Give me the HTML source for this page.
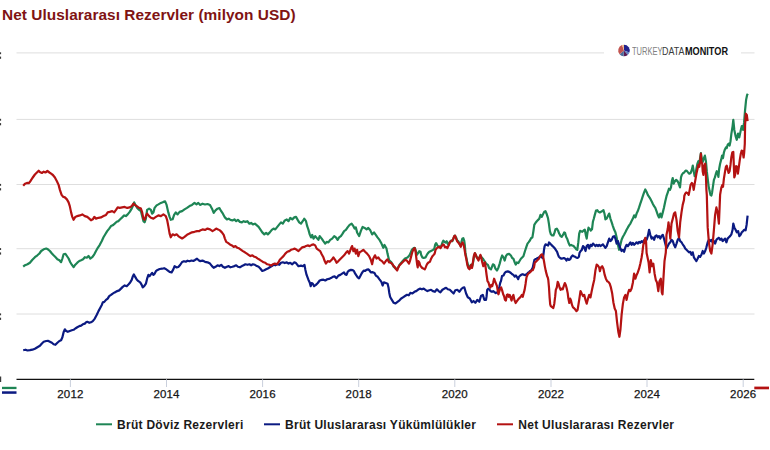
<!DOCTYPE html>
<html><head><meta charset="utf-8"><title>Net Uluslararası Rezervler</title>
<style>
html,body{margin:0;padding:0;background:#fff;}
body{width:770px;height:450px;overflow:hidden;position:relative;font-family:"Liberation Sans",sans-serif;}
#title{position:absolute;left:2px;top:5.5px;letter-spacing:0.05px;font-size:15.4px;font-weight:bold;color:#801313;white-space:nowrap;line-height:18px;}
svg{position:absolute;left:0;top:0;}
.yl{position:absolute;top:386.5px;font-size:11.5px;color:#151515;width:40px;text-align:center;line-height:14px;letter-spacing:0.15px;-webkit-text-stroke:0.25px #151515;}
.lg{position:absolute;top:416.5px;font-size:12px;font-weight:bold;color:#1a1a1a;white-space:nowrap;line-height:16px;letter-spacing:0.28px;}
.lgo{position:absolute;top:43.6px;height:14px;line-height:14px;font-size:11px;white-space:nowrap;transform-origin:0 50%;}
#lt{left:631.8px;color:#808080;transform:scaleX(0.686);}
#ld{left:662.4px;color:#3a3a3a;transform:scaleX(0.808);}
#lm{left:684.8px;color:#111;font-weight:bold;transform:scaleX(0.831);}
</style></head><body>
<svg width="770" height="450" viewBox="0 0 770 450">
<g stroke="#dedede" stroke-width="1" fill="none">
<path d="M16.5 52.9 H754.5"/><path d="M16.5 119.4 H754.5"/><path d="M16.5 184.5 H754.5"/><path d="M16.5 248.7 H754.5"/><path d="M16.5 314.0 H754.5"/>
</g>
<rect x="604" y="44" width="137" height="16" fill="#fff"/>
<path d="M16.5 379.3 H754.3" stroke="#111" stroke-width="1.2" fill="none"/>
<g stroke="#c9cfdc" stroke-width="1">
<path d="M70.4 379.3 V387"/><path d="M166.5 379.3 V387"/><path d="M262.6 379.3 V387"/><path d="M358.7 379.3 V387"/><path d="M454.8 379.3 V387"/><path d="M551 379.3 V387"/><path d="M647 379.3 V387"/><path d="M743.2 379.3 V387"/>
</g>
<g fill="none" stroke-width="2.2" stroke-linejoin="round" stroke-linecap="butt">
<path stroke="#1e8555" d="M23.2 266.7 L25.0 265.2 L27.5 264.2 L29.9 262.7 L32.4 259.7 L34.9 257.2 L37.4 255.3 L39.4 253.5 L41.2 251.0 L43.7 249.3 L46.2 248.5 L47.9 249.3 L49.9 251.0 L51.9 253.5 L53.6 255.3 L55.6 257.2 L57.4 259.2 L59.4 260.2 L61.1 262.2 L62.4 258.5 L63.6 254.3 L65.4 253.8 L66.9 256.0 L68.6 258.5 L70.3 262.2 L71.8 264.7 L73.6 267.2 L75.3 264.7 L77.3 262.7 L79.3 261.0 L81.1 260.2 L83.1 259.2 L84.8 257.2 L86.8 257.7 L88.5 256.0 L90.3 258.5 L92.3 257.2 L94.3 254.3 L96.0 251.0 L97.8 247.8 L99.8 244.8 L101.8 241.0 L103.5 237.3 L105.3 234.3 L107.2 231.1 L109.2 228.6 L111.0 226.1 L112.7 225.3 L114.7 223.6 L116.7 221.8 L118.5 221.1 L120.2 219.3 L122.2 217.4 L124.2 215.4 L125.9 216.1 L127.7 214.4 L129.7 211.9 L131.7 208.6 L133.4 204.9 L134.2 202.4 L135.4 204.9 L137.2 207.9 L139.2 209.9 L140.9 211.1 L142.2 216.1 L143.4 221.1 L144.6 222.3 L145.9 218.6 L147.1 209.9 L149.1 208.6 L150.9 209.9 L152.1 213.6 L153.4 212.4 L154.6 207.9 L156.6 205.4 L158.4 204.4 L160.9 202.9 L163.4 201.9 L165.1 201.4 L166.6 204.9 L168.3 212.4 L169.6 216.9 L170.8 219.8 L172.6 219.3 L174.1 214.9 L175.8 212.4 L177.6 214.4 L179.6 211.9 L182.1 211.1 L184.5 209.4 L187.0 207.9 L189.5 206.1 L192.0 204.9 L194.5 202.9 L196.5 204.4 L198.3 202.9 L200.0 204.9 L202.5 203.7 L205.0 204.5 L207.5 204.0 L210.0 205.0 L212.0 208.7 L213.7 212.9 L215.5 210.4 L217.5 208.7 L219.4 208.0 L221.2 211.2 L222.9 213.7 L224.9 217.4 L226.9 219.4 L228.7 218.7 L230.4 219.9 L232.4 220.4 L234.4 219.4 L236.2 221.2 L237.9 219.9 L239.9 221.9 L241.9 222.4 L243.6 221.2 L245.4 221.9 L247.4 221.2 L249.4 223.7 L251.1 222.9 L252.9 224.4 L254.9 223.7 L256.9 225.4 L258.6 226.9 L260.3 229.4 L262.3 232.4 L264.3 234.4 L266.1 232.9 L267.8 234.4 L269.8 232.4 L271.8 229.9 L273.6 228.6 L275.3 229.4 L277.3 226.9 L279.3 224.4 L281.0 222.4 L282.8 223.7 L284.8 220.4 L286.8 219.4 L288.5 221.2 L290.3 217.9 L292.3 219.4 L294.3 217.4 L296.0 216.9 L297.7 219.9 L299.2 222.4 L301.0 223.7 L302.7 221.2 L304.2 218.7 L306.0 221.2 L307.2 226.2 L308.5 229.9 L309.7 234.4 L311.0 237.4 L312.2 234.9 L313.5 238.6 L315.2 236.1 L316.7 237.9 L318.4 239.9 L319.7 236.1 L321.7 238.6 L323.4 241.1 L325.2 243.6 L326.7 241.9 L328.4 242.4 L330.2 239.9 L332.2 238.6 L334.2 236.1 L335.9 237.4 L337.6 239.9 L339.1 237.4 L340.9 236.1 L342.6 233.6 L344.1 231.1 L345.9 229.9 L347.6 227.4 L349.6 224.9 L351.6 223.7 L353.4 226.2 L354.6 228.6 L355.8 227.4 L357.1 232.4 L359.1 236.1 L360.8 231.1 L362.6 226.9 L364.6 227.9 L366.6 229.4 L368.3 227.9 L370.1 229.9 L372.1 234.4 L374.0 232.4 L375.8 234.9 L377.5 237.4 L379.5 239.9 L381.5 243.6 L383.3 247.8 L384.5 244.9 L386.5 248.6 L387.5 253.6 L389.0 259.8 L390.0 261.2 L391.2 262.2 L392.5 264.3 L393.7 266.8 L395.0 268.0 L396.2 268.9 L397.2 269.3 L398.1 267.4 L399.4 264.9 L400.6 263.4 L402.5 261.2 L405.0 258.4 L407.5 257.4 L409.3 255.5 L410.6 253.1 L411.8 249.9 L413.7 248.1 L414.7 247.8 L415.6 249.9 L416.8 254.9 L418.1 253.1 L419.3 251.2 L420.5 251.8 L421.2 254.9 L422.4 257.4 L423.7 258.0 L425.5 257.4 L426.8 254.9 L428.0 253.1 L429.3 251.8 L430.5 251.2 L431.8 250.6 L433.0 249.9 L434.3 248.7 L435.1 244.9 L436.1 243.1 L437.1 244.9 L438.0 246.8 L439.2 246.4 L440.5 247.4 L441.4 245.6 L442.4 242.5 L443.4 240.6 L444.4 241.8 L445.5 242.5 L446.7 241.2 L447.6 243.7 L448.6 244.9 L449.8 241.8 L451.1 240.6 L452.3 241.2 L453.6 238.1 L454.8 235.6 L456.1 237.5 L457.3 240.6 L458.3 241.2 L459.6 243.7 L460.4 245.6 L461.3 242.5 L462.3 238.7 L463.3 238.1 L464.2 240.6 L464.8 244.9 L465.4 252.4 L466.3 257.4 L467.3 262.4 L468.3 266.1 L469.5 267.4 L470.8 264.9 L471.7 264.3 L472.3 266.1 L473.3 261.2 L474.2 255.5 L475.0 253.4 L476.0 255.5 L477.3 257.7 L478.5 259.3 L479.8 256.8 L480.8 255.9 L481.6 257.4 L482.9 258.7 L484.1 260.5 L485.4 262.4 L486.0 263.6 L487.9 264.9 L489.1 268.0 L491.0 269.3 L492.9 264.3 L494.1 264.9 L495.4 268.6 L497.0 270.5 L498.5 267.4 L499.7 263.6 L501.0 258.7 L502.2 255.5 L503.5 257.4 L504.7 260.5 L505.9 256.2 L507.2 254.3 L509.1 253.9 L510.9 255.5 L512.2 258.0 L513.4 258.7 L514.7 262.4 L515.7 264.6 L516.9 262.4 L518.4 263.0 L519.4 261.2 L520.9 258.7 L523.4 256.2 L525.0 251.0 L526.2 247.4 L527.5 243.6 L528.7 242.1 L529.9 240.5 L531.2 238.0 L532.4 237.4 L533.4 231.2 L534.3 224.9 L535.6 222.7 L536.8 221.2 L538.1 219.9 L539.3 218.7 L540.5 214.9 L541.8 216.8 L543.0 214.3 L544.3 211.8 L545.5 211.2 L546.8 214.3 L548.0 218.1 L548.9 223.7 L549.9 231.2 L550.9 234.3 L552.1 235.5 L553.4 235.5 L554.6 232.4 L555.5 229.3 L556.8 228.7 L558.0 230.5 L559.2 233.6 L560.5 236.1 L561.7 236.8 L563.0 234.9 L564.2 232.4 L565.1 233.0 L566.1 236.8 L567.4 239.3 L568.6 243.0 L569.8 245.5 L571.1 244.9 L572.3 245.5 L573.6 246.1 L574.8 247.4 L576.1 249.2 L577.3 249.9 L578.3 242.4 L579.2 233.6 L580.1 230.9 L581.1 231.2 L582.3 231.8 L583.6 230.5 L584.8 229.7 L585.8 234.9 L586.7 238.6 L587.5 232.4 L588.5 227.7 L589.5 228.7 L590.8 230.5 L592.0 229.3 L592.9 221.8 L593.8 218.7 L594.8 214.9 L596.0 210.6 L597.3 210.2 L598.5 211.8 L599.8 212.5 L601.0 211.8 L602.3 211.0 L603.5 210.2 L604.5 213.7 L605.4 219.3 L606.7 218.6 L607.9 216.1 L609.2 213.6 L610.4 218.6 L611.7 222.4 L612.9 226.1 L614.2 229.8 L615.4 232.3 L616.6 237.3 L617.9 244.8 L619.1 249.8 L620.4 244.8 L621.6 239.8 L622.9 236.8 L624.1 234.8 L625.4 232.3 L626.6 229.8 L627.9 227.4 L629.1 225.4 L630.4 223.6 L631.6 221.1 L632.9 218.6 L634.1 215.4 L635.4 217.4 L636.6 213.6 L637.8 211.1 L639.1 207.4 L640.3 203.7 L641.6 199.9 L642.8 196.2 L644.1 192.4 L645.3 189.4 L646.6 191.9 L647.8 194.9 L649.1 196.9 L650.3 198.7 L651.6 201.2 L652.8 203.7 L654.1 206.2 L655.3 207.9 L656.5 211.1 L657.8 214.9 L659.0 217.4 L660.3 213.6 L661.5 217.4 L662.8 212.4 L664.0 207.4 L665.3 201.2 L666.5 196.2 L667.8 192.4 L669.0 188.7 L670.0 189.9 L671.0 187.4 L671.9 181.1 L672.7 178.0 L673.7 183.6 L675.0 181.1 L676.2 179.9 L677.5 181.1 L678.7 183.6 L680.0 187.4 L681.0 177.4 L681.8 174.9 L683.1 173.0 L684.3 172.4 L685.6 170.5 L686.8 170.9 L688.1 172.4 L689.3 173.7 L690.6 173.0 L691.8 169.9 L692.8 165.6 L693.7 171.2 L694.7 176.2 L695.6 173.7 L696.4 168.7 L697.4 163.7 L698.4 161.2 L699.3 163.1 L700.2 157.5 L700.9 153.1 L701.8 158.7 L702.7 161.8 L703.7 158.7 L704.9 155.6 L705.9 161.2 L706.8 171.2 L707.7 178.6 L708.6 186.1 L709.6 191.1 L710.5 194.9 L711.4 195.5 L712.1 192.4 L713.0 186.1 L713.9 179.9 L714.9 177.4 L715.9 173.7 L716.8 171.2 L717.6 173.0 L718.4 176.8 L719.2 168.7 L720.1 163.7 L721.1 159.9 L722.1 155.6 L723.0 158.1 L723.9 152.5 L724.9 149.4 L725.9 147.5 L726.7 148.1 L727.6 145.0 L728.6 143.7 L729.6 145.6 L730.5 141.2 L731.4 133.6 L732.6 126.1 L733.3 119.9 L734.3 129.9 L735.6 136.1 L736.8 139.8 L738.1 133.6 L739.3 137.4 L740.6 131.1 L741.8 126.1 L743.1 129.9 L744.1 122.4 L745.1 109.9 L746.1 99.9 L747.1 95.0 L747.8 93.7"/>
<path stroke="#0b1a82" d="M23.2 350.2 L25.5 349.7 L27.5 350.5 L29.9 350.2 L32.4 349.7 L34.9 348.7 L37.4 347.2 L39.9 345.8 L41.9 343.5 L43.7 341.8 L46.2 341.0 L47.9 340.8 L49.9 341.8 L51.9 342.8 L53.6 344.3 L55.4 344.8 L57.4 342.8 L59.4 341.0 L61.1 340.3 L62.4 337.3 L63.6 332.3 L64.9 329.3 L66.1 331.0 L67.8 331.8 L69.8 331.0 L71.8 330.3 L73.6 329.8 L75.3 328.5 L77.3 327.3 L79.3 326.1 L81.1 325.6 L82.8 324.3 L84.8 323.6 L86.1 322.3 L87.3 321.8 L89.3 322.8 L91.0 322.3 L92.8 321.1 L94.8 318.6 L96.8 314.8 L98.5 311.1 L100.3 307.8 L101.8 304.9 L102.8 302.4 L104.3 301.9 L106.0 299.9 L107.7 298.6 L109.2 296.1 L111.0 294.9 L112.7 293.6 L114.7 292.4 L117.2 291.1 L119.2 290.4 L121.0 288.6 L122.7 286.9 L124.7 285.4 L126.7 286.2 L128.4 284.4 L130.2 282.4 L131.7 279.9 L132.9 276.2 L133.9 274.4 L135.2 276.9 L136.7 279.4 L138.4 281.2 L140.2 282.4 L141.7 284.9 L142.7 287.4 L144.2 286.2 L145.9 283.7 L147.1 278.7 L148.4 274.9 L149.6 276.2 L150.9 274.4 L152.1 272.9 L153.4 274.9 L154.6 273.7 L155.9 271.2 L157.6 269.9 L159.6 269.0 L162.1 268.7 L164.1 268.2 L165.8 269.0 L167.6 270.4 L169.6 271.9 L171.6 272.4 L173.3 269.4 L174.6 266.2 L176.6 267.5 L178.3 267.0 L180.1 265.0 L182.1 262.0 L184.0 261.2 L185.8 261.7 L187.5 260.7 L189.5 261.2 L191.5 260.5 L193.3 261.0 L195.0 260.0 L197.0 258.7 L199.0 260.5 L200.0 261.1 L202.5 260.6 L205.0 261.8 L207.5 262.3 L210.0 263.6 L212.0 266.1 L213.7 267.8 L215.5 266.8 L217.5 265.3 L219.4 266.1 L221.2 264.8 L222.9 266.8 L224.9 267.8 L226.9 266.8 L228.7 266.1 L230.4 267.3 L232.4 266.8 L234.4 266.1 L236.2 265.3 L237.9 266.8 L239.9 267.3 L241.9 266.1 L243.6 265.3 L245.4 264.3 L247.4 264.8 L249.4 264.3 L251.1 265.3 L252.9 264.3 L254.9 264.8 L256.9 266.1 L258.6 266.8 L260.3 268.5 L262.3 271.0 L264.3 270.3 L266.1 269.3 L267.8 268.5 L269.8 267.3 L271.8 266.1 L273.6 264.8 L275.3 265.3 L277.3 264.3 L279.3 264.8 L281.0 262.8 L282.8 262.3 L284.8 263.1 L286.8 262.3 L288.5 263.6 L290.3 262.8 L292.3 264.3 L294.3 262.3 L296.0 263.1 L298.5 266.2 L301.0 265.6 L302.9 266.2 L304.5 265.0 L305.4 269.9 L306.6 274.9 L308.5 279.9 L309.7 282.4 L310.7 286.2 L311.6 283.0 L312.8 283.7 L314.1 286.2 L315.9 284.9 L317.8 283.0 L319.7 280.5 L321.6 279.9 L323.4 279.7 L325.3 280.5 L327.2 279.3 L329.0 278.9 L330.9 278.1 L332.8 276.8 L334.6 276.4 L336.5 278.1 L338.4 275.6 L340.3 274.9 L342.1 273.7 L344.0 272.4 L345.2 274.3 L346.5 274.9 L347.7 271.8 L349.0 270.6 L350.9 269.9 L352.7 270.2 L354.0 271.2 L355.2 273.7 L356.5 275.6 L357.7 277.4 L359.0 278.4 L360.2 276.2 L361.5 273.7 L362.7 271.8 L363.9 270.6 L365.2 270.9 L366.4 269.9 L368.3 269.3 L369.6 270.6 L370.8 272.4 L372.7 272.2 L374.5 273.1 L375.8 275.6 L377.7 276.8 L379.5 279.3 L381.4 281.8 L382.6 285.5 L383.9 282.4 L385.8 283.0 L387.6 283.7 L388.5 287.4 L389.3 293.0 L390.1 296.8 L391.4 299.2 L393.7 302.8 L395.5 303.5 L397.5 301.8 L399.5 300.3 L401.2 298.5 L403.0 297.3 L405.0 296.0 L407.0 294.8 L408.7 295.3 L410.4 292.8 L412.4 293.5 L414.4 291.8 L416.2 291.1 L417.9 289.8 L419.9 288.6 L421.9 289.3 L423.7 288.6 L425.4 289.8 L427.4 291.1 L429.4 290.3 L431.1 289.8 L432.9 291.1 L434.9 291.8 L436.9 289.3 L438.6 291.1 L440.4 292.3 L442.4 289.8 L444.4 288.6 L446.1 287.8 L447.8 289.3 L449.8 289.8 L451.8 291.8 L453.6 293.5 L455.3 290.3 L457.3 289.8 L459.3 291.8 L461.1 289.3 L462.8 287.8 L464.3 287.3 L466.1 293.5 L467.8 297.3 L469.8 298.5 L471.8 302.3 L473.5 301.0 L475.3 302.8 L477.3 299.8 L479.3 301.8 L481.0 296.0 L482.8 294.8 L484.3 299.8 L486.0 299.9 L486.6 296.2 L487.2 289.9 L488.2 288.7 L489.5 289.7 L490.7 291.2 L492.0 291.8 L493.2 291.2 L494.5 292.2 L495.7 293.1 L497.0 292.4 L497.8 293.1 L498.5 289.9 L499.5 286.2 L500.3 282.5 L501.0 281.0 L502.0 276.1 L503.5 275.5 L504.7 273.0 L505.9 271.8 L507.8 271.4 L509.7 272.1 L510.9 273.0 L512.2 274.2 L513.4 274.9 L514.7 276.7 L515.9 275.5 L517.2 277.4 L518.2 279.2 L519.0 276.7 L520.3 275.5 L521.5 274.6 L522.8 274.2 L524.0 274.9 L525.3 275.1 L526.5 274.2 L527.8 273.0 L529.0 272.1 L530.3 270.9 L531.5 270.1 L532.8 267.4 L533.6 263.6 L534.4 259.9 L535.2 259.3 L536.5 258.7 L537.7 258.0 L539.0 257.4 L540.2 256.2 L541.5 257.2 L542.7 258.0 L543.4 254.9 L544.0 249.9 L544.6 246.2 L545.6 244.3 L546.8 244.9 L548.1 245.6 L549.0 242.5 L549.8 243.1 L550.8 244.3 L552.1 245.6 L553.3 246.8 L554.6 248.1 L555.8 249.9 L557.1 251.8 L558.1 254.9 L558.9 256.8 L560.2 258.0 L561.4 258.7 L562.7 258.4 L563.9 258.0 L565.2 258.7 L566.4 260.5 L567.7 258.7 L568.9 259.9 L570.2 259.3 L571.4 256.8 L572.6 255.5 L573.9 256.2 L575.1 256.8 L576.4 257.7 L577.6 258.0 L578.9 256.8 L579.5 253.1 L580.5 251.2 L581.8 249.9 L583.0 246.1 L584.2 247.3 L585.5 251.0 L586.7 246.1 L588.0 244.8 L589.2 248.5 L590.5 244.8 L591.7 246.1 L593.0 243.6 L594.2 244.8 L595.5 246.1 L596.7 244.8 L597.9 246.1 L599.2 244.8 L600.4 246.1 L601.7 245.3 L602.9 244.3 L604.2 246.1 L605.4 247.8 L606.7 246.1 L607.9 242.3 L609.2 238.6 L610.4 241.1 L611.7 239.8 L612.9 236.8 L614.2 236.1 L615.4 238.6 L616.6 243.6 L617.9 241.1 L619.1 244.8 L620.4 248.5 L621.6 251.0 L622.9 249.8 L624.1 251.8 L625.4 247.3 L626.6 244.8 L627.9 246.1 L629.1 244.3 L630.4 242.3 L631.6 244.8 L632.9 242.8 L634.1 244.8 L635.4 243.6 L636.6 242.3 L637.8 243.6 L639.1 241.8 L640.3 242.8 L641.6 241.1 L642.8 242.3 L644.1 240.3 L645.3 238.6 L646.6 239.8 L647.8 236.1 L649.1 229.8 L650.3 234.8 L651.6 238.6 L652.8 237.3 L654.1 239.8 L655.3 236.1 L656.5 235.3 L657.8 237.3 L659.0 236.1 L660.3 238.6 L661.5 236.1 L662.8 234.8 L664.0 238.6 L665.3 243.6 L666.5 248.5 L667.8 246.1 L669.0 243.6 L670.3 242.3 L671.5 239.8 L672.8 241.1 L674.0 244.8 L675.2 247.3 L676.5 243.6 L677.7 239.8 L679.0 237.8 L680.2 241.1 L681.5 242.3 L682.7 244.3 L684.0 246.1 L685.2 248.5 L686.5 249.8 L687.7 251.0 L689.0 252.3 L690.2 251.8 L691.5 254.8 L692.7 252.3 L693.9 257.3 L695.2 259.3 L696.4 261.0 L697.7 258.5 L698.9 256.0 L700.2 256.8 L701.4 254.8 L702.7 251.0 L703.9 253.5 L705.2 251.0 L706.4 247.3 L707.7 242.3 L708.9 239.8 L710.2 241.1 L711.4 239.8 L712.6 242.3 L713.9 241.1 L715.1 243.6 L716.4 239.8 L717.6 238.6 L718.9 237.8 L720.1 239.8 L721.4 238.6 L722.6 241.1 L723.9 239.8 L725.1 238.6 L726.4 242.3 L727.6 238.6 L728.9 237.3 L730.1 236.1 L731.4 234.3 L732.6 229.8 L733.3 223.6 L734.3 227.4 L735.6 229.8 L736.8 232.3 L738.1 231.1 L739.3 236.1 L740.6 234.8 L741.8 232.3 L743.1 231.1 L744.3 229.8 L745.6 230.3 L746.6 224.9 L747.6 215.6"/>
<path stroke="#b41212" d="M23.2 185.7 L25.0 183.7 L27.0 182.9 L28.7 183.2 L30.4 181.2 L32.4 178.0 L34.9 174.5 L36.9 172.5 L38.7 170.7 L39.9 172.0 L41.9 173.0 L43.7 171.7 L45.4 172.5 L47.4 171.0 L49.4 172.5 L51.1 173.7 L52.9 175.0 L54.9 177.5 L56.9 181.2 L58.6 184.9 L59.9 189.9 L61.6 194.9 L63.1 196.7 L64.9 197.4 L66.9 199.4 L68.6 202.4 L69.8 206.1 L71.1 212.4 L72.3 216.9 L73.6 219.8 L75.3 216.9 L77.3 216.1 L79.8 215.4 L82.3 214.4 L84.8 216.1 L87.3 216.9 L89.3 218.6 L91.0 220.3 L92.8 219.3 L94.3 216.9 L96.0 218.6 L98.5 217.8 L101.0 217.4 L103.5 216.1 L106.0 214.9 L107.7 212.4 L109.7 211.9 L112.2 211.1 L114.2 212.4 L116.0 209.9 L117.7 207.4 L119.7 207.9 L122.2 207.4 L124.7 206.9 L127.2 207.9 L129.7 207.4 L131.7 206.1 L133.4 203.6 L134.7 204.9 L136.7 206.1 L138.4 207.4 L140.9 208.6 L142.2 212.4 L143.4 218.6 L144.6 219.8 L145.9 216.1 L147.1 213.6 L149.1 216.1 L150.9 217.8 L153.4 218.6 L155.9 216.9 L158.4 215.4 L160.9 216.1 L163.4 214.4 L165.8 216.1 L167.1 219.8 L168.3 226.1 L169.6 233.6 L170.8 237.3 L172.6 234.3 L174.6 235.3 L176.6 234.3 L178.3 236.1 L180.1 237.3 L182.1 238.5 L184.5 236.8 L187.0 234.8 L189.5 233.6 L192.0 232.3 L194.5 231.8 L197.0 231.1 L199.5 231.1 L200.0 230.4 L202.5 229.4 L205.0 229.9 L207.5 228.6 L210.0 229.4 L212.5 231.1 L214.5 229.9 L216.2 228.6 L218.0 229.4 L219.9 230.4 L221.9 232.4 L223.7 234.9 L224.9 238.6 L226.2 241.9 L227.9 242.9 L229.9 244.4 L231.9 245.4 L233.7 246.9 L235.4 246.1 L237.4 247.8 L239.4 248.6 L241.1 249.8 L242.9 251.1 L244.9 252.3 L246.9 253.6 L248.6 254.8 L250.4 256.1 L252.4 255.3 L254.4 256.8 L256.1 257.3 L257.8 258.6 L259.8 259.8 L261.8 261.1 L263.6 262.3 L265.3 262.8 L267.3 264.3 L269.3 264.8 L271.1 265.6 L272.8 264.3 L274.8 263.6 L276.8 264.3 L278.5 262.3 L279.8 259.8 L281.8 257.8 L283.5 256.1 L285.3 253.6 L287.3 251.8 L289.3 251.1 L291.0 249.8 L292.8 249.3 L294.8 248.6 L296.7 249.8 L298.5 251.1 L300.2 249.3 L302.2 247.4 L304.2 246.9 L306.0 246.1 L307.7 245.4 L309.7 246.1 L311.7 244.9 L313.5 244.4 L315.2 245.4 L316.7 248.6 L318.4 249.8 L320.2 251.1 L321.7 254.3 L323.4 257.3 L324.7 261.1 L325.9 263.6 L327.7 261.1 L329.7 261.8 L331.7 259.8 L333.4 257.3 L335.1 259.8 L336.6 262.8 L338.4 261.1 L340.1 259.3 L342.1 257.3 L344.1 255.3 L345.9 252.8 L347.6 251.1 L349.1 253.6 L350.9 248.6 L352.1 246.1 L353.4 251.1 L354.6 248.6 L355.8 253.6 L357.1 249.8 L358.3 256.1 L359.6 252.3 L361.6 251.1 L363.3 249.8 L365.1 251.8 L367.1 253.6 L369.1 256.1 L370.8 259.8 L372.1 264.3 L373.3 258.6 L375.0 255.3 L376.5 258.6 L378.3 257.3 L380.0 259.8 L382.0 261.1 L384.0 263.6 L385.8 261.1 L387.5 259.3 L389.0 262.3 L390.0 262.4 L391.2 263.0 L392.5 264.3 L393.7 266.1 L395.0 267.4 L396.2 269.3 L397.2 270.5 L398.1 268.0 L399.4 265.5 L400.6 264.3 L401.8 263.0 L403.1 261.8 L404.3 260.5 L405.6 259.9 L406.8 260.5 L408.1 262.4 L409.0 263.6 L409.9 261.2 L410.9 257.4 L412.2 252.4 L413.4 249.3 L414.7 248.1 L415.6 251.8 L416.4 258.7 L417.2 264.9 L417.7 267.4 L418.4 261.2 L419.3 262.4 L420.2 265.5 L421.2 266.8 L422.2 268.0 L423.4 268.6 L424.7 269.3 L425.5 268.0 L426.4 265.5 L427.4 263.6 L428.6 262.4 L429.9 261.8 L431.1 258.7 L432.4 256.2 L433.6 254.9 L434.6 253.7 L435.5 249.9 L436.8 248.1 L438.0 247.4 L439.2 246.8 L440.5 248.1 L441.7 246.2 L443.0 244.3 L443.9 244.9 L444.9 247.4 L446.1 246.8 L447.4 248.1 L448.6 245.6 L449.8 242.5 L451.1 241.2 L452.3 240.6 L453.3 238.7 L454.2 236.2 L455.1 235.6 L456.1 238.7 L457.1 241.2 L458.3 242.5 L459.6 244.3 L460.8 246.8 L461.7 243.7 L462.6 242.5 L463.6 244.9 L464.6 249.9 L465.4 254.9 L466.3 258.7 L467.3 264.9 L468.3 268.0 L469.5 269.3 L470.4 266.8 L471.3 264.9 L472.0 268.0 L472.9 262.4 L473.8 256.2 L474.8 253.1 L475.8 254.9 L476.6 257.4 L477.5 258.7 L478.5 260.5 L479.5 257.4 L480.4 254.9 L481.3 258.0 L482.3 262.4 L483.3 266.1 L484.1 263.6 L485.0 262.4 L486.6 275.0 L487.5 281.2 L488.5 282.5 L489.5 286.2 L490.4 287.5 L491.2 285.0 L492.2 286.2 L493.2 282.5 L494.1 278.7 L495.0 281.2 L496.0 283.7 L497.0 286.2 L497.8 291.2 L498.5 294.3 L499.5 290.6 L500.3 288.7 L501.2 287.5 L502.2 290.6 L503.2 294.3 L504.1 296.2 L505.0 299.9 L505.9 300.5 L506.9 294.9 L507.8 294.3 L508.7 296.8 L509.7 294.9 L510.7 298.1 L511.6 300.5 L512.4 296.8 L513.4 294.9 L514.4 299.9 L515.7 303.0 L516.9 301.2 L518.2 299.3 L519.4 298.1 L520.7 296.8 L521.9 294.9 L522.8 296.8 L523.7 293.1 L524.6 289.9 L525.6 283.7 L526.1 280.0 L526.5 277.4 L527.8 274.2 L529.0 273.0 L530.3 272.1 L531.5 270.5 L532.8 270.1 L534.0 267.4 L534.9 262.4 L535.9 261.8 L537.1 260.5 L538.4 259.3 L539.6 257.4 L540.9 254.9 L542.1 254.3 L543.1 256.2 L544.0 261.2 L544.8 266.1 L545.8 271.1 L546.8 274.9 L547.3 276.7 L547.8 277.5 L548.3 280.0 L549.0 287.5 L549.6 297.4 L550.2 304.3 L550.8 306.2 L552.1 307.2 L553.3 308.0 L554.3 303.7 L555.2 296.2 L555.8 289.9 L556.8 287.5 L557.7 281.8 L558.6 283.7 L559.6 287.5 L560.6 289.9 L561.4 288.7 L562.7 289.3 L563.9 285.6 L564.8 283.1 L565.8 285.0 L566.8 288.7 L567.7 293.1 L568.3 298.1 L569.3 303.0 L570.2 298.7 L571.0 300.5 L572.0 304.9 L573.0 307.4 L573.9 308.0 L575.1 309.3 L576.4 311.1 L577.6 309.9 L579.2 299.9 L580.5 291.1 L581.7 293.6 L583.0 296.1 L584.2 294.9 L585.5 299.9 L586.7 303.6 L588.0 298.6 L589.2 294.9 L590.5 297.4 L591.7 291.1 L593.0 284.9 L594.2 279.9 L595.5 269.9 L596.7 264.5 L597.9 265.5 L599.2 267.5 L599.9 271.2 L600.9 267.5 L602.2 266.2 L603.4 268.7 L604.7 274.9 L605.9 278.7 L607.2 281.2 L608.4 281.9 L609.7 283.7 L610.9 287.4 L612.2 293.6 L613.4 302.4 L614.7 308.6 L615.9 311.1 L617.1 322.3 L618.4 332.3 L619.4 336.8 L620.4 329.8 L621.6 314.8 L622.9 303.6 L624.1 297.4 L625.4 294.9 L626.6 299.9 L627.9 293.6 L629.1 289.9 L630.4 291.1 L631.6 288.6 L632.9 282.4 L634.1 273.7 L635.4 278.7 L636.6 274.9 L637.8 272.4 L639.1 268.7 L640.3 263.7 L641.6 257.5 L642.3 253.0 L643.3 244.8 L644.1 242.3 L645.3 237.8 L646.1 242.3 L646.6 253.0 L647.3 256.2 L648.6 262.5 L649.6 272.4 L650.8 260.0 L652.1 266.2 L653.3 263.7 L654.6 273.7 L655.8 279.9 L657.0 282.4 L658.3 291.1 L659.5 281.2 L660.8 278.7 L661.8 292.4 L662.5 294.4 L663.5 277.4 L664.5 261.2 L665.8 252.5 L666.5 234.8 L667.8 228.6 L668.5 222.4 L669.5 229.8 L670.3 238.6 L671.5 223.6 L672.8 218.6 L674.0 213.6 L675.2 212.4 L676.5 219.9 L677.7 231.1 L679.0 237.3 L680.2 222.4 L681.5 212.4 L682.7 204.9 L684.0 199.9 L684.3 196.0 L685.2 193.6 L686.2 192.4 L687.5 193.0 L688.7 194.9 L689.7 189.9 L690.6 184.9 L691.8 183.0 L692.8 184.3 L693.7 189.9 L694.7 183.6 L695.6 178.6 L696.4 173.7 L697.4 169.3 L698.4 164.9 L699.3 166.8 L700.2 161.2 L700.9 153.7 L701.4 162.4 L702.2 163.1 L702.7 171.2 L703.4 174.9 L704.3 166.2 L705.2 163.7 L705.9 174.9 L706.4 189.9 L706.8 194.9 L707.7 227.4 L708.9 242.3 L710.2 251.0 L711.4 253.5 L712.6 244.8 L713.9 229.8 L715.1 214.9 L716.4 207.4 L717.6 212.4 L718.9 223.6 L719.6 207.4 L720.1 194.9 L720.5 192.4 L721.4 187.4 L722.4 184.9 L723.0 186.8 L723.9 178.6 L724.9 172.4 L725.9 166.8 L726.7 165.6 L727.6 169.3 L728.6 173.0 L729.6 171.2 L730.5 164.9 L731.3 157.5 L732.3 152.5 L733.3 151.8 L733.8 164.9 L734.3 177.4 L735.1 174.9 L736.1 166.2 L737.1 166.8 L737.9 173.7 L738.8 167.4 L739.8 159.9 L740.8 153.7 L741.7 150.6 L742.6 151.2 L743.6 157.5 L744.2 152.5 L744.8 143.7 L745.1 124.9 L745.8 113.7 L746.8 114.9 L747.6 121.1"/>
</g>
<!-- edge fragments -->
<rect x="2" y="386.8" width="14.5" height="2.3" fill="#1e8555"/>
<rect x="2" y="391.3" width="14.5" height="2.5" fill="#0b1a82"/>
<rect x="754.3" y="386.6" width="14.7" height="2.7" fill="#b41212"/>
<g fill="#3a3a3a">
<rect x="0" y="52.3" width="1.1" height="1.9"/><rect x="0" y="56.6" width="1.1" height="2.2"/><rect x="0" y="118.8" width="1.1" height="1.9"/><rect x="0" y="123.1" width="1.1" height="2.2"/><rect x="0" y="183.9" width="1.1" height="1.9"/><rect x="0" y="188.2" width="1.1" height="2.2"/><rect x="0" y="248.1" width="1.1" height="1.9"/><rect x="0" y="252.4" width="1.1" height="2.2"/><rect x="0" y="313.4" width="1.1" height="1.9"/><rect x="0" y="317.7" width="1.1" height="2.2"/>
<rect x="0" y="376.5" width="1.2" height="5.5"/>
</g>
<!-- logo icon -->
<g transform="translate(624,50.5)"><path d="M0 0 L0.00 -5.80 A5.8 5.8 0 0 1 5.45 1.98 Z" fill="#22228c"/><path d="M0 0 L5.45 1.98 A5.8 5.8 0 0 1 3.73 4.44 Z" fill="#6484c4"/><path d="M0 0 L3.73 4.44 A5.8 5.8 0 0 1 -0.51 5.78 Z" fill="#5a1c54"/><path d="M0 0 L-0.51 5.78 A5.8 5.8 0 0 1 -4.44 3.73 Z" fill="#4a6c9c"/><path d="M0 0 L-4.44 3.73 A5.8 5.8 0 0 1 -1.98 -5.45 Z" fill="#c25450"/><path d="M0 0 L-1.98 -5.45 A5.8 5.8 0 0 1 -0.00 -5.80 Z" fill="#f0b888"/></g>
<!-- legend lines -->
<g stroke-width="2" fill="none">
<path stroke="#1e8555" d="M96 424.3 H112"/>
<path stroke="#0b1a82" d="M264 424.3 H280"/>
<path stroke="#b41212" d="M497 424.3 H513"/>
</g>
</svg>
<div id="title">Net Uluslararası Rezervler (milyon USD)</div>
<div class="lgo" id="lt">TURKEY</div><div class="lgo" id="ld">DATA</div><div class="lgo" id="lm">MONITOR</div>
<div class="yl" style="left:50.400000000000006px">2012</div><div class="yl" style="left:146.5px">2014</div><div class="yl" style="left:242.60000000000002px">2016</div><div class="yl" style="left:338.7px">2018</div><div class="yl" style="left:434.8px">2020</div><div class="yl" style="left:531px">2022</div><div class="yl" style="left:627px">2024</div><div class="yl" style="left:723.2px">2026</div>
<div class="lg" id="l1" style="left:117px">Brüt Döviz Rezervleri</div>
<div class="lg" id="l2" style="left:285px">Brüt Uluslararası Yükümlülükler</div>
<div class="lg" id="l3" style="left:518.3px">Net Uluslararası Rezervler</div>
</body></html>
